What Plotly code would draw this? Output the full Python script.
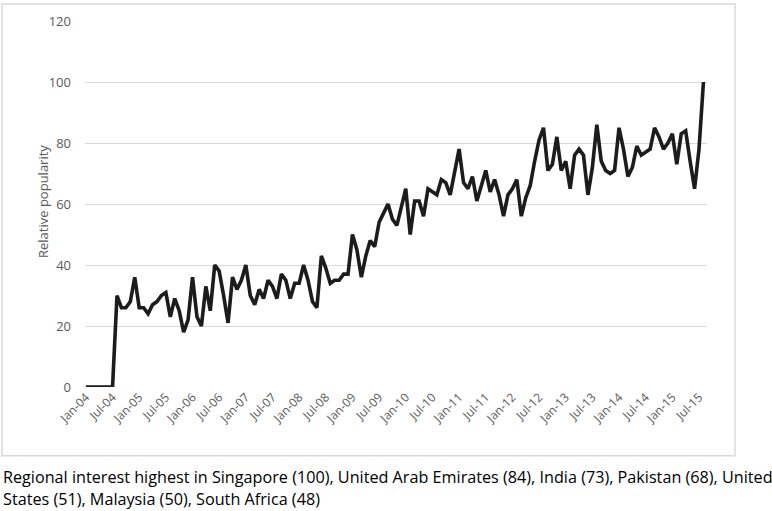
import plotly.graph_objects as go

# Monthly relative popularity, Jan-04 .. Aug-15
popularity = [
    0, 0, 0, 0, 0, 0, 0, 30, 26, 26, 28, 36,          # 2004
    26, 26, 24, 27, 28, 30, 31, 23, 29, 25, 18, 22,   # 2005
    36, 23, 20, 33, 25, 40, 38, 30, 21, 36, 32, 35,   # 2006
    40, 30, 27, 32, 29, 35, 33, 29, 37, 35, 29, 34,   # 2007
    34, 40, 35, 28, 26, 43, 39, 34, 35, 35, 37, 37,   # 2008
    50, 45, 36, 43, 48, 46, 54, 57, 60, 55, 53, 59,   # 2009
    65, 50, 61, 61, 56, 65, 64, 63, 68, 67, 63, 70,   # 2010
    78, 67, 65, 69, 61, 66, 71, 64, 68, 63, 56, 63,   # 2011
    65, 68, 56, 62, 66, 74, 81, 85, 71, 73, 82, 71,   # 2012
    74, 65, 76, 78, 76, 63, 72, 86, 74, 71, 70, 71,   # 2013
    85, 78, 69, 72, 79, 76, 77, 78, 85, 82, 78, 80,   # 2014
    83, 73, 83, 84, 74, 65, 78, 100,                  # 2015
]

tick_labels = ["Jan-04", "Jul-04", "Jan-05", "Jul-05", "Jan-06", "Jul-06",
               "Jan-07", "Jul-07", "Jan-08", "Jul-08", "Jan-09", "Jul-09",
               "Jan-10", "Jul-10", "Jan-11", "Jul-11", "Jan-12", "Jul-12",
               "Jan-13", "Jul-13", "Jan-14", "Jul-14", "Jan-15", "Jul-15"]
tick_step = 6

y_ticks = [0, 20, 40, 60, 80, 100, 120]
y_title = "Relative popularity"
caption_lines = [
    "Regional interest highest in Singapore (100), United Arab Emirates (84), India (73), Pakistan (68), United",
    "States (51), Malaysia (50), South Africa (48)",
]

months = list(range(len(popularity)))
tick_positions = [i * tick_step for i in range(len(tick_labels))]

W, H = 772, 511
L, R, T, B = 85, 707, 19, 387   # plot area in pixels
pw, ph = R - L, B - T

def px(x):
    return (x - L) / pw

def py(y):
    return (B - y) / ph

gray = "#595959"
grid = "#d9d9d9"
font = "Open Sans"

fig = go.Figure()
fig.add_trace(go.Scatter(
    x=months, y=popularity, mode="lines",
    line=dict(color="#1c1c1c", width=3.6),
    showlegend=False, hoverinfo="skip",
))

fig.update_layout(
    width=W, height=H,
    margin=dict(l=L, r=W - R, t=T, b=H - B, pad=0),
    paper_bgcolor="white", plot_bgcolor="white",
    font=dict(family=font, color=gray, size=12),
    xaxis=dict(
        range=[-0.2, len(popularity) - 0.2],
        tickmode="array", tickvals=tick_positions, ticktext=tick_labels,
        tickangle=-45, showgrid=False, zeroline=False, showline=False,
        ticks="", tickfont=dict(size=12, color=gray, family=font),
    ),
    yaxis=dict(
        range=[0, 120], tickmode="array", tickvals=y_ticks,
        showgrid=True, gridcolor=grid, gridwidth=1, zeroline=False,
        showline=False, ticks="", ticklen=0, ticklabelstandoff=13,
        tickfont=dict(size=13, color=gray, family=font),
    ),
    shapes=[dict(
        type="rect", xref="paper", yref="paper",
        x0=px(2), x1=px(735), y0=py(456), y1=py(2),
        line=dict(color=grid, width=1.5), fillcolor="rgba(0,0,0,0)", layer="below",
    )],
    annotations=[
        dict(text=y_title, xref="paper", yref="paper", x=px(43), y=py(201),
             showarrow=False, textangle=-90, xanchor="center", yanchor="middle",
             font=dict(size=13, color=gray, family=font)),
        dict(text=caption_lines[0], xref="paper", yref="paper", x=px(1), y=py(477),
             showarrow=False, xanchor="left", yanchor="middle",
             font=dict(size=16.2, color="#000000", family=font)),
        dict(text=caption_lines[1], xref="paper", yref="paper", x=px(1), y=py(500),
             showarrow=False, xanchor="left", yanchor="middle",
             font=dict(size=16.2, color="#000000", family=font)),
    ],
)

fig.write_html("out.html", config={"displayModeBar": False},
               post_script="document.body.style.margin='0';document.body.style.overflow='hidden';")
